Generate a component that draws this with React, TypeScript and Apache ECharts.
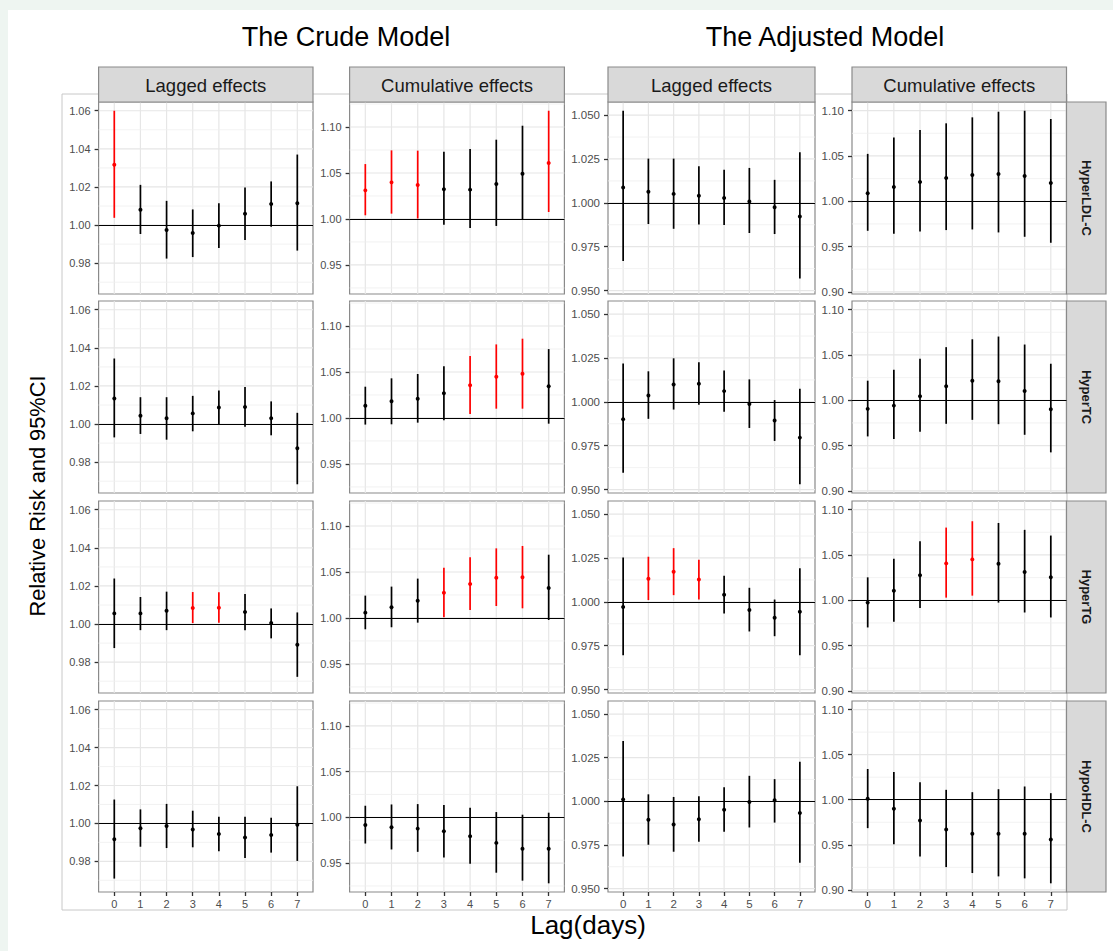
import React, { useEffect, useRef } from "react";
import * as echarts from "echarts";

// ---- data ----------------------------------------------------------------
const lags = [0, 1, 2, 3, 4, 5, 6, 7];
const outcomes = ["HyperLDL-C", "HyperTC", "HyperTG", "HypoHDL-C"];
const modelTitles = ["The Crude Model", "The Adjusted Model"];
const effectTypes = ["Lagged effects", "Cumulative effects", "Lagged effects", "Cumulative effects"];

// Crude model, lagged effects (rows: HyperLDL-C, HyperTC, HyperTG, HypoHDL-C)
const crudeLagRR = [
  [1.0316, 1.008, 0.9974, 0.9958, 0.9997, 1.0059, 1.011, 1.0115],
  [1.0134, 1.0044, 1.003, 1.0056, 1.0087, 1.0089, 1.003, 0.9873],
  [1.0056, 1.0056, 1.007, 1.0084, 1.0086, 1.0063, 1.0005, 0.9891],
  [0.9916, 0.9975, 0.9986, 0.9968, 0.9944, 0.9926, 0.9939, 0.9993],
];
const crudeLagLow = [
  [1.0038, 0.9953, 0.9824, 0.9832, 0.988, 0.9921, 0.9991, 0.9866],
  [0.993, 0.9948, 0.9918, 0.9962, 0.9995, 0.9986, 0.9941, 0.9684],
  [0.9874, 0.9968, 0.9968, 1.0005, 1.0007, 0.9968, 0.9925, 0.9723],
  [0.9709, 0.9877, 0.987, 0.9874, 0.9853, 0.9818, 0.9846, 0.9802],
];
const crudeLagHigh = [
  [1.06, 1.0211, 1.0127, 1.0082, 1.0115, 1.0197, 1.0229, 1.037],
  [1.0344, 1.0141, 1.0141, 1.0148, 1.0176, 1.0194, 1.0119, 1.0059],
  [1.0239, 1.0142, 1.017, 1.0168, 1.0167, 1.0158, 1.0082, 1.0061],
  [1.0126, 1.0074, 1.0103, 1.0067, 1.0035, 1.0035, 1.003, 1.0196],
];

// Crude model, cumulative effects
const crudeCumRR = [
  [1.0311, 1.0398, 1.0369, 1.0322, 1.0319, 1.038, 1.0492, 1.0608],
  [1.0134, 1.0181, 1.021, 1.0268, 1.0355, 1.0449, 1.0481, 1.0344],
  [1.0058, 1.0116, 1.0188, 1.0275, 1.037, 1.0438, 1.0442, 1.0326],
  [0.9917, 0.9891, 0.9877, 0.9848, 0.9793, 0.9721, 0.9656, 0.9656],
];
const crudeCumLow = [
  [1.004, 1.0058, 1.0005, 0.9938, 0.9902, 0.9924, 0.9995, 1.0076],
  [0.9928, 0.9931, 0.9949, 0.9975, 1.0043, 1.0101, 1.0101, 0.9938],
  [0.9877, 0.9899, 0.9949, 1.0007, 1.0087, 1.013, 1.0105, 0.9978],
  [0.9714, 0.9649, 0.9623, 0.9562, 0.9493, 0.9395, 0.9308, 0.9279],
];
const crudeCumHigh = [
  [1.0597, 1.0746, 1.0743, 1.0731, 1.076, 1.0862, 1.1014, 1.1177],
  [1.034, 1.0431, 1.0478, 1.0562, 1.0674, 1.08, 1.0862, 1.0749],
  [1.0243, 1.0341, 1.0428, 1.0547, 1.0659, 1.0757, 1.0783, 1.0688],
  [1.0127, 1.0141, 1.0145, 1.0134, 1.0105, 1.0058, 1.0029, 1.0051],
];

// Adjusted model, lagged effects
const adjLagRR = [
  [1.0087, 1.0063, 1.0051, 1.004, 1.0028, 1.0008, 0.9975, 0.9922],
  [0.9901, 1.0036, 1.0099, 1.0103, 1.0061, 0.9987, 0.9893, 0.9796],
  [0.997, 1.0131, 1.0171, 1.0127, 1.004, 0.9954, 0.9909, 0.9943],
  [1.0011, 0.9894, 0.9867, 0.9897, 0.9951, 0.9996, 1.0006, 0.9933],
];
const adjLagLow = [
  [0.9669, 0.9879, 0.9852, 0.9877, 0.9873, 0.9828, 0.9822, 0.9568],
  [0.9596, 0.9903, 0.9956, 0.9983, 0.9943, 0.9851, 0.9777, 0.953],
  [0.9696, 1.001, 1.0038, 1.0013, 0.9933, 0.9831, 0.9804, 0.9696],
  [0.9684, 0.9751, 0.9711, 0.9768, 0.9825, 0.985, 0.9878, 0.9648],
];
const adjLagHigh = [
  [1.0525, 1.0252, 1.0252, 1.0208, 1.0189, 1.0199, 1.0131, 1.0288],
  [1.0218, 1.0174, 1.0248, 1.0225, 1.0179, 1.0128, 1.001, 1.0074],
  [1.0253, 1.0257, 1.0306, 1.024, 1.0148, 1.008, 1.0013, 1.0192],
  [1.0346, 1.004, 1.0025, 1.0029, 1.008, 1.0146, 1.0127, 1.0226],
];

// Adjusted model, cumulative effects
const adjCumRR = [
  [1.0088, 1.0157, 1.0212, 1.0256, 1.0289, 1.03, 1.0278, 1.0201],
  [0.9905, 0.9941, 1.0044, 1.0154, 1.0216, 1.0209, 1.0102, 0.9901],
  [0.9974, 1.0106, 1.0275, 1.0407, 1.0451, 1.0403, 1.0311, 1.0253],
  [1.0011, 0.9901, 0.9769, 0.967, 0.9623, 0.9623, 0.9623, 0.956],
];
const adjCumLow = [
  [0.9674, 0.9641, 0.9667, 0.9682, 0.9689, 0.9656, 0.9608, 0.9542],
  [0.9601, 0.9572, 0.9652, 0.974, 0.9784, 0.9736, 0.9619, 0.9425],
  [0.97, 0.9762, 0.9916, 1.0029, 1.0051, 0.9974, 0.9865, 0.981],
  [0.9685, 0.9505, 0.937, 0.9253, 0.9187, 0.915, 0.9128, 0.9073],
];
const adjCumHigh = [
  [1.0523, 1.0703, 1.0787, 1.086, 1.0926, 1.0988, 1.0999, 1.0908],
  [1.0216, 1.0337, 1.0458, 1.0586, 1.0673, 1.0703, 1.0615, 1.0403],
  [1.0253, 1.0458, 1.0652, 1.0802, 1.0872, 1.0853, 1.0777, 1.0714],
  [1.0341, 1.0308, 1.0194, 1.011, 1.0084, 1.0117, 1.0147, 1.0073],
];

// y-axis tick labels for each column of panels
const crudeLagTicks = [0.98, 1.0, 1.02, 1.04, 1.06];
const crudeCumTicks = [0.95, 1.0, 1.05, 1.1];
const adjLagTicks = [0.95, 0.975, 1.0, 1.025, 1.05];
const adjCumTicks = [0.9, 0.95, 1.0, 1.05, 1.1];

// ---- layout --------------------------------------------------------------
const colLeft = [98.6, 349.6, 608, 852];
const colRight = [313, 564.4, 815, 1066.5];
const rowTop = [102, 301, 501, 701];
const rowBottom = [294, 493, 693, 892];
const FONT = "'Liberation Sans', Arial, sans-serif";

const columns = [
  { rr: crudeLagRR, lo: crudeLagLow, hi: crudeLagHigh, ticks: crudeLagTicks, digits: 2, fs: 11 },
  { rr: crudeCumRR, lo: crudeCumLow, hi: crudeCumHigh, ticks: crudeCumTicks, digits: 2, fs: 11 },
  { rr: adjLagRR, lo: adjLagLow, hi: adjLagHigh, ticks: adjLagTicks, digits: 3, fs: 11.5 },
  { rr: adjCumRR, lo: adjCumLow, hi: adjCumHigh, ticks: adjCumTicks, digits: 2, fs: 11.5 },
];

function buildOption() {
  const grid: any[] = [];
  const xAxis: any[] = [];
  const yAxis: any[] = [];
  const series: any[] = [];

  columns.forEach((col, c) => {
    // shared y range per column, padded by 5% like ggplot
    const lows = col.lo.flat();
    const highs = col.hi.flat();
    const dmin = Math.min(...lows);
    const dmax = Math.max(...highs);
    const pad = (dmax - dmin) * 0.05;
    const ymin = dmin - pad;
    const ymax = dmax + pad;
    const step = col.ticks[1] - col.ticks[0];
    const minors: number[] = [];
    for (let i = -1; i < col.ticks.length; i++) {
      const m = col.ticks[0] + step * (i + 0.5);
      if (m > ymin && m < ymax) minors.push(m);
    }

    for (let r = 0; r < 4; r++) {
      const idx = grid.length;
      const bottomRow = r === 3;
      grid.push({
        left: colLeft[c],
        top: rowTop[r],
        width: colRight[c] - colLeft[c],
        height: rowBottom[r] - rowTop[r],
        show: true,
        backgroundColor: "#ffffff",
        borderColor: "#8a8a8a",
        borderWidth: 1.2,
      });
      xAxis.push({
        gridIndex: idx,
        type: "value",
        position: "bottom",
        min: -0.6,
        max: 7.6,
        axisLine: { show: false, onZero: false },
        splitLine: { show: false },
        axisTick: {
          show: bottomRow,
          customValues: lags,
          length: 4,
          lineStyle: { color: "#333", width: 1.3 },
        },
        axisLabel: {
          show: bottomRow,
          customValues: lags,
          color: "#4d4d4d",
          fontSize: col.fs,
          fontFamily: FONT,
          margin: 6,
        },
      });
      yAxis.push({
        gridIndex: idx,
        type: "value",
        position: "left",
        min: ymin,
        max: ymax,
        axisLine: { show: false, onZero: false },
        splitLine: { show: false },
        axisTick: {
          show: true,
          customValues: col.ticks,
          length: 4,
          lineStyle: { color: "#333", width: 1.3 },
        },
        axisLabel: {
          customValues: col.ticks,
          formatter: (v: number) => v.toFixed(col.digits),
          color: "#4d4d4d",
          fontSize: col.fs,
          fontFamily: FONT,
          margin: 8,
        },
      });

      // background grid lines
      const gridData = [
        ...lags.map((v) => [0, v]),
        ...col.ticks.map((v) => [1, v]),
        ...minors.map((v) => [2, v]),
      ];
      series.push({
        type: "custom",
        xAxisIndex: idx,
        yAxisIndex: idx,
        z: 1,
        silent: true,
        data: gridData,
        renderItem: (params: any, api: any) => {
          const cs = params.coordSys;
          const kind = api.value(0);
          const v = api.value(1);
          if (kind === 0) {
            const x = api.coord([v, 1])[0];
            return {
              type: "line",
              shape: { x1: x, y1: cs.y, x2: x, y2: cs.y + cs.height },
              style: { stroke: "#e6e6e6", lineWidth: 1.2 },
            };
          }
          const y = api.coord([0, v])[1];
          return {
            type: "line",
            shape: { x1: cs.x, y1: y, x2: cs.x + cs.width, y2: y },
            style: kind === 1 ? { stroke: "#e6e6e6", lineWidth: 1.2 } : { stroke: "#efefef", lineWidth: 0.8 },
          };
        },
      });

      // relative risk with 95% CI
      const rr = col.rr[r];
      const lo = col.lo[r];
      const hi = col.hi[r];
      series.push({
        type: "custom",
        xAxisIndex: idx,
        yAxisIndex: idx,
        z: 3,
        data: lags.map((l, i) => [l, rr[i], lo[i], hi[i]]),
        encode: { x: 0, y: [1, 2, 3] },
        renderItem: (params: any, api: any) => {
          const x = api.value(0);
          const m = api.value(1);
          const l = api.value(2);
          const h = api.value(3);
          const color = l > 1 || h < 1 ? "#ff0000" : "#000000";
          const p1 = api.coord([x, l]);
          const p2 = api.coord([x, h]);
          const pm = api.coord([x, m]);
          return {
            type: "group",
            children: [
              {
                type: "line",
                shape: { x1: p1[0], y1: p1[1], x2: p2[0], y2: p2[1] },
                style: { stroke: color, lineWidth: 1.7 },
              },
              {
                type: "circle",
                shape: { cx: pm[0], cy: pm[1], r: 2 },
                style: { fill: color },
              },
            ],
          };
        },
        markLine: {
          silent: true,
          symbol: ["none", "none"],
          label: { show: false },
          lineStyle: { color: "#000000", width: 1, type: "solid" },
          data: [{ yAxis: 1 }],
        },
      });
    }
  });

  const text = (x: number, y: number, s: string, fontSize: number, extra: any = {}) => ({
    type: "text",
    x,
    y,
    rotation: extra.rotation || 0,
    z: 10,
    style: {
      text: s,
      fontSize,
      fontFamily: FONT,
      fontWeight: extra.bold ? "bold" : "normal",
      fill: extra.fill || "#000000",
      align: "center",
      verticalAlign: "middle",
      textAlign: "center",
      textVerticalAlign: "middle",
    },
  });

  const graphic: any[] = [
    // tinted page margins
    { type: "rect", shape: { x: 0, y: 0, width: 1113, height: 10 }, style: { fill: "#eef5f1" }, z: 0 },
    { type: "rect", shape: { x: 0, y: 0, width: 8, height: 951 }, style: { fill: "#eef5f1" }, z: 0 },
    // outline around the panel block
    {
      type: "rect",
      shape: { x: 62, y: 94, width: 1005, height: 816 },
      style: { fill: "none", stroke: "#c8c8c8", lineWidth: 1 },
      z: 0,
    },
  ];

  // column strips
  effectTypes.forEach((label, c) => {
    graphic.push({
      type: "rect",
      shape: { x: colLeft[c], y: 67, width: colRight[c] - colLeft[c], height: 35 },
      style: { fill: "#d9d9d9", stroke: "#8a8a8a", lineWidth: 1.2 },
      z: 5,
    });
    graphic.push(text((colLeft[c] + colRight[c]) / 2, 85, label, 18.5, { fill: "#1a1a1a" }));
  });

  // row strips
  outcomes.forEach((label, r) => {
    graphic.push({
      type: "rect",
      shape: { x: 1066.5, y: rowTop[r], width: 39.5, height: rowBottom[r] - rowTop[r] },
      style: { fill: "#d9d9d9", stroke: "#8a8a8a", lineWidth: 1.2 },
      z: 5,
    });
    graphic.push(
      text(1086, (rowTop[r] + rowBottom[r]) / 2, label, 13, { bold: true, rotation: -Math.PI / 2, fill: "#1a1a1a" })
    );
  });

  graphic.push(text(346, 37, modelTitles[0], 27));
  graphic.push(text(825, 37, modelTitles[1], 27));
  graphic.push(text(37, 496, "Relative Risk and 95%CI", 21.8, { rotation: Math.PI / 2 }));
  graphic.push(text(588, 925, "Lag(days)", 26));

  return {
    animation: false,
    backgroundColor: "#ffffff",
    textStyle: { fontFamily: FONT },
    grid,
    xAxis,
    yAxis,
    series,
    graphic,
  };
}

export default function App() {
  const ref = useRef<HTMLDivElement>(null);
  useEffect(() => {
    if (!ref.current) return;
    const chart = echarts.init(ref.current, undefined, { renderer: "svg" });
    chart.setOption(buildOption() as any);
    return () => chart.dispose();
  }, []);
  return (
    <div
      ref={ref}
      style={{ position: "absolute", left: 0, top: 0, width: 1113, height: 951 }}
    />
  );
}
